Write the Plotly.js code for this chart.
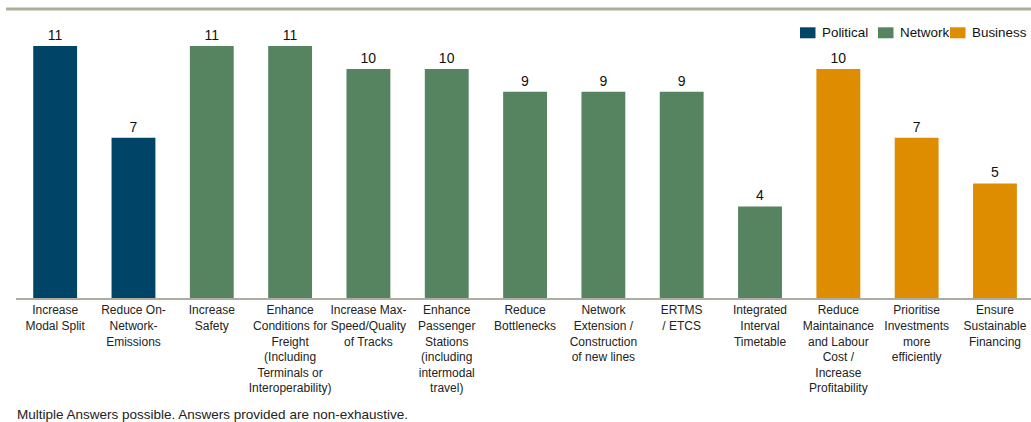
<!DOCTYPE html>
<html>
<head>
<meta charset="utf-8">
<script src="https://cdn.plot.ly/plotly-3.0.1.min.js"></script>
<style>
  html, body { margin: 0; padding: 0; background: #ffffff; }
  #chart { width: 1031px; height: 422px; }
</style>
</head>
<body>
<div id="chart"></div>
<script>
const categories = [
  "Increase<br>Modal Split",
  "Reduce On-<br>Network-<br>Emissions",
  "Increase<br>Safety",
  "Enhance<br>Conditions for<br>Freight<br>(Including<br>Terminals or<br>Interoperability)",
  "Increase Max-<br>Speed/Quality<br>of Tracks",
  "Enhance<br>Passenger<br>Stations<br>(including<br>intermodal<br>travel)",
  "Reduce<br>Bottlenecks",
  "Network<br>Extension /<br>Construction<br>of new lines",
  "ERTMS<br>/ ETCS",
  "Integrated<br>Interval<br>Timetable",
  "Reduce<br>Maintainance<br>and Labour<br>Cost /<br>Increase<br>Profitability",
  "Prioritise<br>Investments<br>more<br>efficiently",
  "Ensure<br>Sustainable<br>Financing"
];
const values = [11, 7, 11, 11, 10, 10, 9, 9, 9, 4, 10, 7, 5];
const groups = ["Political", "Political", "Network", "Network", "Network", "Network", "Network",
                "Network", "Network", "Network", "Business", "Business", "Business"];
const groupNames = ["Political", "Network", "Business"];
const groupColors = {"Political": "#004567", "Network": "#568460", "Business": "#df8d00"};
const footnote = "Multiple Answers possible. Answers provided are non-exhaustive.";

const FONT = "Liberation Sans, Arial, Helvetica, sans-serif";

// plot-area geometry (pixels) used to place the legend / decorations in paper coords
const W = 1031, H = 422;
const ML = 16, MR = 0, MT = 30, MB = 123.5;
const PW = W - ML - MR, PH = H - MT - MB;
const px2x = p => (p - ML) / PW;
const py2y = p => (H - MB - p) / PH;

const traces = groupNames.map(g => {
  const xs = [], ys = [];
  categories.forEach((c, i) => { if (groups[i] === g) { xs.push(c); ys.push(values[i]); } });
  return {
    type: "bar",
    name: g,
    x: xs,
    y: ys,
    width: 0.56,
    marker: {color: groupColors[g], line: {width: 0}},
    text: ys.map(String),
    textposition: "outside",
    textfont: {family: FONT, size: 14, color: "#111111"},
    cliponaxis: false,
    showlegend: false,
    hoverinfo: "x+y"
  };
});

// manual legend (square + label) to reproduce the compact legend of the original
const legendSquareX = [800, 878, 950];
const shapes = [{
  type: "line",
  xref: "paper", yref: "paper",
  x0: px2x(6), x1: 1, y0: py2y(9), y1: py2y(9),
  line: {color: "#afad9c", width: 3}
}];
const annotations = [{
  text: footnote,
  xref: "paper", yref: "paper",
  x: px2x(15), y: py2y(415),
  xanchor: "left", yanchor: "middle",
  showarrow: false,
  font: {family: FONT, size: 13.5, color: "#222222"}
}];
groupNames.forEach((g, i) => {
  const sx = legendSquareX[i];
  shapes.push({
    type: "rect", xref: "paper", yref: "paper",
    x0: px2x(sx), x1: px2x(sx + 15.5), y0: py2y(38.3), y1: py2y(27.3),
    fillcolor: groupColors[g], line: {width: 0}
  });
  annotations.push({
    text: g, xref: "paper", yref: "paper",
    x: px2x(sx + 19.5), y: py2y(32.8),
    xanchor: "left", yanchor: "middle", showarrow: false,
    font: {family: FONT, size: 13.4, color: "#111111"}
  });
});

const layout = {
  width: W,
  height: H,
  margin: {l: ML, r: MR, t: MT, b: MB},
  paper_bgcolor: "#ffffff",
  plot_bgcolor: "#ffffff",
  barmode: "overlay",
  font: {family: FONT, size: 12, color: "#222222"},
  showlegend: false,
  xaxis: {
    type: "category",
    categoryorder: "array",
    categoryarray: categories,
    range: [-0.5, 12.46],
    showline: true,
    linecolor: "#aeac9f",
    linewidth: 2,
    ticks: "",
    showgrid: false,
    zeroline: false,
    tickangle: 0,
    tickfont: {family: FONT, size: 12, color: "#222222"},
    fixedrange: true
  },
  yaxis: {
    range: [0, 11.7],
    visible: false,
    showgrid: false,
    zeroline: false,
    fixedrange: true
  },
  shapes: shapes,
  annotations: annotations
};

Plotly.newPlot("chart", traces, layout, {displayModeBar: false, staticPlot: true});
</script>
</body>
</html>
